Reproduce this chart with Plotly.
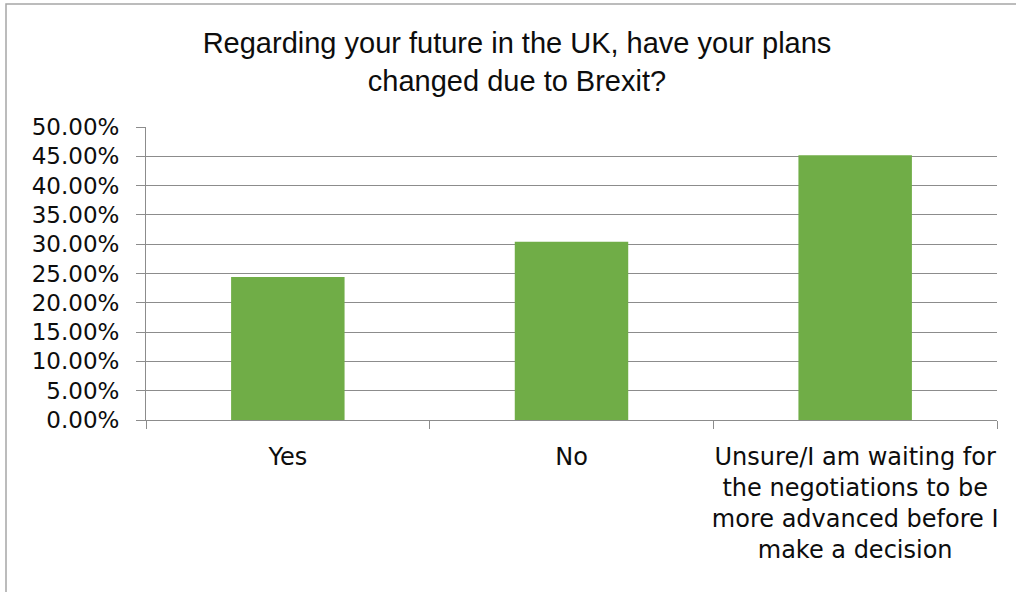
import plotly.graph_objects as go

categories = ["Yes", "No", "Unsure/I am waiting for<br>the negotiations to be<br>more advanced before I<br>make a decision"]
values = [0.244, 0.304, 0.452]

W, H = 1016, 592
ml, mr, mt, mb = 146, 19, 127, 172
pw = W - ml - mr
ph = H - mt - mb

fig = go.Figure(go.Bar(x=categories, y=values, marker=dict(color="#70AD47", line=dict(width=0)),
                       hoverinfo="skip"))

fig.update_layout(
    width=W, height=H,
    margin=dict(l=ml, r=mr, t=mt, b=mb, autoexpand=False),
    paper_bgcolor="white", plot_bgcolor="white",
    bargap=0.6,
    showlegend=False,
    title=dict(text="Regarding your future in the UK, have your plans<br>changed due to Brexit?",
               x=517 / W, xanchor="center", xref="container",
               y=1 - 53 / H, yanchor="top", yref="container",
               font=dict(family="Liberation Sans, Arial", size=29, color="#0d0d0d")),
    font=dict(family="DejaVu Sans", color="#0d0d0d"),
)

fig.update_yaxes(range=[0, 0.5], dtick=0.05, tickformat=".2%",
                 showgrid=True, gridcolor="#8c8c8c", gridwidth=1,
                 showline=True, linecolor="#8c8c8c", linewidth=1,
                 ticks="outside", ticklen=9, tickcolor="#8c8c8c",
                 ticklabelstandoff=12,
                 tickfont=dict(size=23, color="#0d0d0d"), zeroline=False, fixedrange=True)
fig.update_xaxes(showline=True, linecolor="#8c8c8c", linewidth=1,
                 ticks="outside", ticklen=8, tickcolor="#8c8c8c", tickson="boundaries",
                 ticklabelstandoff=15, fixedrange=True,
                 tickfont=dict(size=24, color="#0d0d0d"), showgrid=False, tickangle=0)

# chart border
fig.add_shape(type="rect", xref="paper", yref="paper",
              x0=(6 - ml) / pw, x1=(W + 20 - ml) / pw,
              y0=-(H - 420 + 20) / ph, y1=(420 - 4) / ph,
              line=dict(color="#a6a6a6", width=1.5), fillcolor="rgba(0,0,0,0)", layer="below")

fig.write_html("out.html", config={"displayModeBar": False},
               post_script="document.body.style.margin='0';")
